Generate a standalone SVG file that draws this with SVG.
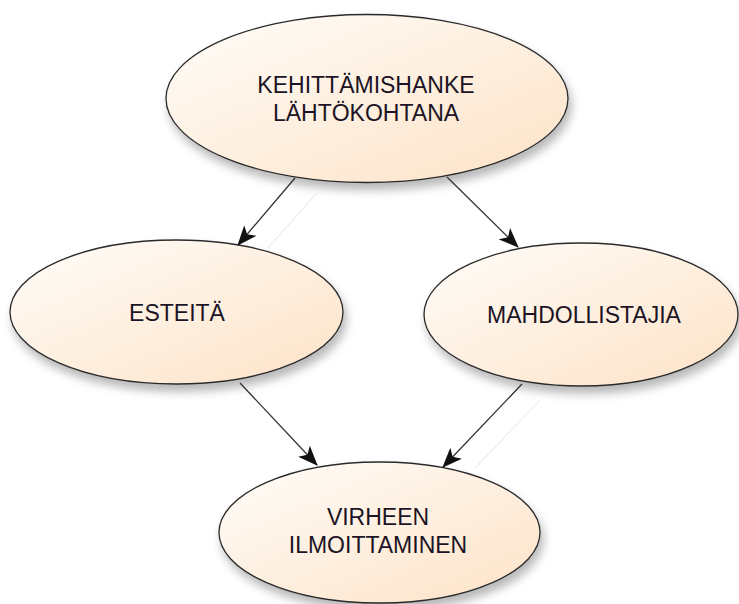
<svg xmlns="http://www.w3.org/2000/svg" width="739" height="604" viewBox="0 0 739 604">
  <defs>
    <linearGradient id="nodeFill" x1="0" y1="0" x2="1" y2="1">
      <stop offset="0" stop-color="#fffdfa"/>
      <stop offset="1" stop-color="#fde2c6"/>
    </linearGradient>
    <filter id="shadow" x="-20%" y="-20%" width="140%" height="150%">
      <feDropShadow dx="3" dy="7" stdDeviation="5" flood-color="#000" flood-opacity="0.28"/>
    </filter>
    <marker id="arrow" viewBox="0 0 20 16" refX="19" refY="8" markerWidth="20" markerHeight="16" markerUnits="userSpaceOnUse" orient="auto">
      <path d="M0,0 L20,8 L0,16 L5,8 Z" fill="#111"/>
    </marker>
  </defs>
  <style>
    .node ellipse { fill: url(#nodeFill); stroke: #2b2b2b; stroke-width: 1.3; filter: url(#shadow); }
    .node text { font-family: "Liberation Sans", Arial, sans-serif; font-size: 23px; fill: #1c1424; text-anchor: middle; }
    .edge { stroke: #333; stroke-width: 1.3; fill: none; marker-end: url(#arrow); }
    .edge-shadow { stroke: #f0f0f0; stroke-width: 1.5; fill: none; }
  </style>

  <rect width="739" height="604" fill="#ffffff"/>

  <!-- faint connector shadows -->
  <g id="connector-shadows">
    <line class="edge-shadow" x1="316" y1="194" x2="268" y2="248"/>
    <line class="edge-shadow" x1="540" y1="400" x2="475" y2="468"/>
  </g>

  <g id="node-kehittamishanke" class="node">
    <ellipse cx="367" cy="98.5" rx="201" ry="84"/>
    <text x="366" y="93">KEHITTÄMISHANKE</text>
    <text x="366" y="121">LÄHTÖKOHTANA</text>
  </g>

  <g id="node-esteita" class="node">
    <ellipse cx="176.5" cy="312" rx="166.5" ry="72"/>
    <text x="177" y="321">ESTEITÄ</text>
  </g>

  <g id="node-mahdollistajia" class="node">
    <ellipse cx="581" cy="314.5" rx="157" ry="71.5"/>
    <text x="584" y="323">MAHDOLLISTAJIA</text>
  </g>

  <g id="node-virheen-ilmoittaminen" class="node">
    <ellipse cx="379.5" cy="532.5" rx="160.5" ry="70.5"/>
    <text x="378" y="525">VIRHEEN</text>
    <text x="378" y="553">ILMOITTAMINEN</text>
  </g>

  <g id="connectors">
    <line class="edge" x1="295" y1="178" x2="238" y2="245"/>
    <line class="edge" x1="447" y1="177" x2="518" y2="247"/>
    <line class="edge" x1="240" y1="383" x2="317" y2="465"/>
    <line class="edge" x1="522" y1="384" x2="443" y2="467"/>
  </g>
</svg>
